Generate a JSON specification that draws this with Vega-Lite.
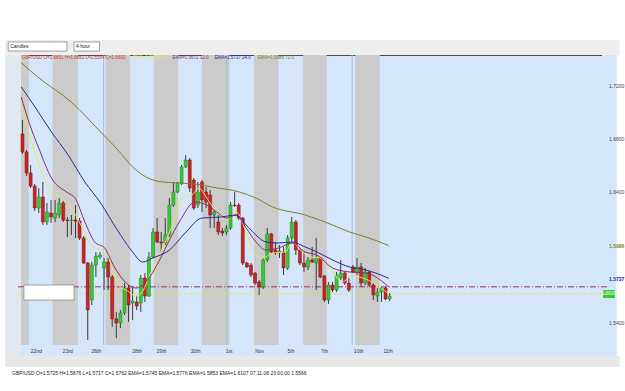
{
"$schema": "https://vega.github.io/schema/vega-lite/v6.json",
"width": 591, "height": 290,
"autosize": {"type": "none"},
"padding": {"left": 16, "top": 55, "right": 18, "bottom": 46},
"background": "white",
"config": {"view": {"fill": "#d5e6fb", "stroke": "#4a4a4a", "strokeWidth": 1}, "font": "Liberation Sans"},
"title": {"text": "GBP/USD O=1.5725 H=1.5876 L=1.5717 C=1.5762  EMA=1.5745 EMA=1.5776 EMA=1.5853 EMA=1.6107  07.11.08 23:00:00  1.5566", "orient": "bottom", "anchor": "start", "frame": "group", "dx": -4, "offset": 4, "fontSize": 5, "fontWeight": "normal", "color": "#222222", "font": "Liberation Sans"},
"datasets": {
"bands": [{"start":-0.36,"end":1.57},{"start":7.35,"end":13.61},{"start":20.36,"end":26.39},{"start":32.17,"end":38.19},{"start":43.98,"end":50.72},{"start":56.75,"end":62.77},{"start":68.8,"end":74.58},{"start":81.57,"end":87.59}],
"weeks": [{"i":19.9},{"i":50.0},{"i":80.8}],
"levels": [{"level":1.5672,"kind":"ema12"},{"level":1.5618,"kind":"ema6"}],
"chrome": [
{"x1":-4.217,"x2":146.39,"y1":1.7434,"y2":1.7548,"part":"toolbar"},
{"x1":-4.217,"x2":-0.36,"y1":1.5146,"y2":1.7434,"part":"lefttools"},
{"x1":142.05,"x2":145.66,"y1":1.5146,"y2":1.7434,"part":"axisstrip"},
{"x1":-0.36,"x2":142.05,"y1":1.5146,"y2":1.523,"part":"axisstrip"},
{"x1":-4.217,"x2":146.39,"y1":1.5063,"y2":1.5146,"part":"status"},
{"x1":142.3,"x2":145.2,"y1":1.5587,"y2":1.5648,"part":"pricebox"},
{"x1":-3.49,"x2":10.9,"y1":1.7464,"y2":1.7533,"part":"field"},
{"x1":12.65,"x2":18.9,"y1":1.7464,"y2":1.7533,"part":"field"},
{"x1":0.36,"x2":12.65,"y1":1.5572,"y2":1.5686,"part":"inputbox"}
],
"labels": [
{"i":-3.0,"p":1.7499,"t":"Candles","k":"tool"},
{"i":13.13,"p":1.7499,"t":"4 hour","k":"tool"},
{"i":143.75,"p":1.5618,"t":"1.5618","k":"price"}
],
"header": [
{"i":-0.1,"p":1.7411,"t":"GBP/USD O=1.6651 H=1.6661 L=1.6564 C=1.6603","s":"price"},
{"i":27.1,"p":1.7411,"t":"EMA=1.5618 6.0","s":"ema6"},
{"i":36.75,"p":1.7411,"t":"EMA=1.5672 12.0","s":"ema12"},
{"i":47.1,"p":1.7411,"t":"EMA=1.5737 24.0","s":"ema24"},
{"i":57.7,"p":1.7411,"t":"EMA=1.5986 72.0","s":"ema72"}
],
"candles": [
{"i":0,"o":1.6834,"h":1.6940,"l":1.6682,"c":1.6697},
{"i":1,"o":1.6697,"h":1.6712,"l":1.6514,"c":1.6537},
{"i":2,"o":1.6537,"h":1.6598,"l":1.6423,"c":1.6438},
{"i":3,"o":1.6438,"h":1.6454,"l":1.6248,"c":1.6271},
{"i":4,"o":1.6271,"h":1.6423,"l":1.6233,"c":1.6355},
{"i":5,"o":1.6355,"h":1.6469,"l":1.6142,"c":1.6165},
{"i":6,"o":1.6165,"h":1.6309,"l":1.6142,"c":1.6241},
{"i":7,"o":1.6233,"h":1.6332,"l":1.6157,"c":1.6203},
{"i":8,"o":1.6195,"h":1.6332,"l":1.6165,"c":1.6233},
{"i":9,"o":1.6218,"h":1.6347,"l":1.6195,"c":1.6309},
{"i":10,"o":1.6309,"h":1.6324,"l":1.6165,"c":1.6180},
{"i":11,"o":1.6180,"h":1.6203,"l":1.6051,"c":1.6176},
{"i":12,"o":1.6176,"h":1.6218,"l":1.6066,"c":1.6180},
{"i":13,"o":1.6180,"h":1.6294,"l":1.6043,"c":1.6172},
{"i":14,"o":1.6172,"h":1.6195,"l":1.6028,"c":1.6043},
{"i":15,"o":1.6043,"h":1.6058,"l":1.5846,"c":1.5853},
{"i":16,"o":1.5853,"h":1.5861,"l":1.5268,"c":1.5496},
{"i":17,"o":1.5572,"h":1.5861,"l":1.5534,"c":1.5838},
{"i":18,"o":1.5838,"h":1.5937,"l":1.5747,"c":1.5906},
{"i":19,"o":1.5899,"h":1.5937,"l":1.5884,"c":1.5914},
{"i":20,"o":1.5815,"h":1.5891,"l":1.5648,"c":1.5861},
{"i":21,"o":1.5861,"h":1.5891,"l":1.5648,"c":1.5747},
{"i":22,"o":1.5747,"h":1.5762,"l":1.5367,"c":1.5428},
{"i":23,"o":1.5428,"h":1.5481,"l":1.5283,"c":1.5397},
{"i":24,"o":1.5397,"h":1.5496,"l":1.5359,"c":1.5473},
{"i":25,"o":1.5473,"h":1.5701,"l":1.5458,"c":1.5663},
{"i":26,"o":1.5663,"h":1.5686,"l":1.5405,"c":1.5534},
{"i":27,"o":1.5549,"h":1.5663,"l":1.5420,"c":1.5564},
{"i":28,"o":1.5557,"h":1.5602,"l":1.5496,"c":1.5526},
{"i":29,"o":1.5549,"h":1.5762,"l":1.5481,"c":1.5739},
{"i":30,"o":1.5739,"h":1.5777,"l":1.5557,"c":1.5602},
{"i":31,"o":1.5602,"h":1.5937,"l":1.5595,"c":1.5899},
{"i":32,"o":1.5899,"h":1.6119,"l":1.5891,"c":1.6089},
{"i":33,"o":1.6089,"h":1.6195,"l":1.6005,"c":1.6013},
{"i":34,"o":1.6013,"h":1.6089,"l":1.5937,"c":1.6005},
{"i":35,"o":1.6005,"h":1.6195,"l":1.5990,"c":1.6066},
{"i":36,"o":1.6066,"h":1.6347,"l":1.6051,"c":1.6294},
{"i":37,"o":1.6294,"h":1.6469,"l":1.6279,"c":1.6393},
{"i":38,"o":1.6393,"h":1.6469,"l":1.6385,"c":1.6461},
{"i":39,"o":1.6461,"h":1.6598,"l":1.6446,"c":1.6583},
{"i":40,"o":1.6583,"h":1.6674,"l":1.6575,"c":1.6636},
{"i":41,"o":1.6636,"h":1.6651,"l":1.6393,"c":1.6423},
{"i":42,"o":1.6484,"h":1.6499,"l":1.6256,"c":1.6271},
{"i":43,"o":1.6294,"h":1.6469,"l":1.6271,"c":1.6393},
{"i":44,"o":1.6469,"h":1.6484,"l":1.6241,"c":1.6332},
{"i":45,"o":1.6393,"h":1.6431,"l":1.6271,"c":1.6317},
{"i":46,"o":1.6370,"h":1.6408,"l":1.6119,"c":1.6218},
{"i":47,"o":1.6218,"h":1.6256,"l":1.6119,"c":1.6241},
{"i":48,"o":1.6165,"h":1.6218,"l":1.6066,"c":1.6089},
{"i":49,"o":1.6096,"h":1.6119,"l":1.6058,"c":1.6081},
{"i":50,"o":1.6089,"h":1.6142,"l":1.6066,"c":1.6119},
{"i":51,"o":1.6119,"h":1.6317,"l":1.6104,"c":1.6294},
{"i":52,"o":1.6294,"h":1.6393,"l":1.6279,"c":1.6290},
{"i":53,"o":1.6294,"h":1.6309,"l":1.6180,"c":1.6195},
{"i":54,"o":1.6195,"h":1.6203,"l":1.5838,"c":1.5853},
{"i":55,"o":1.5853,"h":1.5861,"l":1.5815,"c":1.5823},
{"i":56,"o":1.5838,"h":1.5853,"l":1.5747,"c":1.5762},
{"i":57,"o":1.5777,"h":1.5785,"l":1.5686,"c":1.5701},
{"i":58,"o":1.5709,"h":1.5724,"l":1.5610,"c":1.5671},
{"i":59,"o":1.5671,"h":1.5891,"l":1.5656,"c":1.5876},
{"i":60,"o":1.5876,"h":1.6119,"l":1.5861,"c":1.6074},
{"i":61,"o":1.6074,"h":1.6081,"l":1.5929,"c":1.5937},
{"i":62,"o":1.5952,"h":1.6013,"l":1.5914,"c":1.5929},
{"i":63,"o":1.5929,"h":1.5990,"l":1.5891,"c":1.5944},
{"i":64,"o":1.5937,"h":1.5975,"l":1.5762,"c":1.5815},
{"i":65,"o":1.5815,"h":1.6066,"l":1.5800,"c":1.6043},
{"i":66,"o":1.6043,"h":1.6203,"l":1.6013,"c":1.6165},
{"i":67,"o":1.6165,"h":1.6180,"l":1.5914,"c":1.5952},
{"i":68,"o":1.5952,"h":1.5967,"l":1.5838,"c":1.5853},
{"i":69,"o":1.5853,"h":1.5937,"l":1.5785,"c":1.5823},
{"i":70,"o":1.5823,"h":1.5899,"l":1.5800,"c":1.5876},
{"i":71,"o":1.5876,"h":1.5975,"l":1.5853,"c":1.5861},
{"i":72,"o":1.5853,"h":1.6043,"l":1.5648,"c":1.5891},
{"i":73,"o":1.5891,"h":1.5899,"l":1.5739,"c":1.5747},
{"i":74,"o":1.5754,"h":1.5762,"l":1.5557,"c":1.5572},
{"i":75,"o":1.5572,"h":1.5709,"l":1.5542,"c":1.5686},
{"i":76,"o":1.5686,"h":1.5709,"l":1.5633,"c":1.5648},
{"i":77,"o":1.5648,"h":1.5785,"l":1.5633,"c":1.5762},
{"i":78,"o":1.5739,"h":1.5876,"l":1.5724,"c":1.5777},
{"i":79,"o":1.5777,"h":1.5785,"l":1.5686,"c":1.5701},
{"i":80,"o":1.5701,"h":1.5739,"l":1.5633,"c":1.5648},
{"i":81,"o":1.5823,"h":1.5838,"l":1.5777,"c":1.5785},
{"i":82,"o":1.5785,"h":1.5891,"l":1.5762,"c":1.5823},
{"i":83,"o":1.5823,"h":1.5853,"l":1.5671,"c":1.5701},
{"i":84,"o":1.5701,"h":1.5815,"l":1.5686,"c":1.5785},
{"i":85,"o":1.5785,"h":1.5792,"l":1.5671,"c":1.5686},
{"i":86,"o":1.5686,"h":1.5701,"l":1.5572,"c":1.5610},
{"i":87,"o":1.5602,"h":1.5663,"l":1.5557,"c":1.5633},
{"i":88,"o":1.5633,"h":1.5671,"l":1.5557,"c":1.5663},
{"i":89,"o":1.5663,"h":1.5671,"l":1.5572,"c":1.5580},
{"i":90,"o":1.5580,"h":1.5625,"l":1.5564,"c":1.5602}
],
"ma": [
{"i":-0.3,"p":1.7039,"s":"ema6"},{"i":0.84,"p":1.6925,"s":"ema6"},{"i":3.25,"p":1.6674,"s":"ema6"},{"i":5.66,"p":1.6469,"s":"ema6"},{"i":7.11,"p":1.6393,"s":"ema6"},{"i":9.52,"p":1.6347,"s":"ema6"},{"i":11.93,"p":1.6271,"s":"ema6"},{"i":14.34,"p":1.6142,"s":"ema6"},{"i":16.75,"p":1.5990,"s":"ema6"},{"i":18.92,"p":1.5952,"s":"ema6"},{"i":20.84,"p":1.5914,"s":"ema6"},{"i":22.53,"p":1.5762,"s":"ema6"},{"i":23.98,"p":1.5671,"s":"ema6"},{"i":25.42,"p":1.5648,"s":"ema6"},{"i":27.83,"p":1.5602,"s":"ema6"},{"i":29.52,"p":1.5641,"s":"ema6"},{"i":31.2,"p":1.5762,"s":"ema6"},{"i":34.34,"p":1.5967,"s":"ema6"},{"i":36.75,"p":1.6142,"s":"ema6"},{"i":39.16,"p":1.6347,"s":"ema6"},{"i":41.57,"p":1.6370,"s":"ema6"},{"i":43.25,"p":1.6423,"s":"ema6"},{"i":45.18,"p":1.6347,"s":"ema6"},{"i":47.59,"p":1.6241,"s":"ema6"},{"i":50,"p":1.6180,"s":"ema6"},{"i":52.41,"p":1.6241,"s":"ema6"},{"i":54.82,"p":1.6089,"s":"ema6"},{"i":57.23,"p":1.5914,"s":"ema6"},{"i":58.92,"p":1.5891,"s":"ema6"},{"i":61.33,"p":1.5929,"s":"ema6"},{"i":64.46,"p":1.5937,"s":"ema6"},{"i":66.14,"p":1.6013,"s":"ema6"},{"i":68.07,"p":1.5952,"s":"ema6"},{"i":70.48,"p":1.5899,"s":"ema6"},{"i":72.89,"p":1.5891,"s":"ema6"},{"i":76.02,"p":1.5785,"s":"ema6"},{"i":78.43,"p":1.5709,"s":"ema6"},{"i":80.84,"p":1.5762,"s":"ema6"},{"i":82.53,"p":1.5747,"s":"ema6"},{"i":85.66,"p":1.5709,"s":"ema6"},{"i":89.76,"p":1.5618,"s":"ema6"},
{"i":-0.3,"p":1.7115,"s":"ema12"},{"i":1.57,"p":1.6925,"s":"ema12"},{"i":3.98,"p":1.6727,"s":"ema12"},{"i":7.11,"p":1.6499,"s":"ema12"},{"i":11.2,"p":1.6385,"s":"ema12"},{"i":12.89,"p":1.6347,"s":"ema12"},{"i":15.3,"p":1.6165,"s":"ema12"},{"i":17.71,"p":1.6013,"s":"ema12"},{"i":20.12,"p":1.5967,"s":"ema12"},{"i":22.53,"p":1.5823,"s":"ema12"},{"i":25.42,"p":1.5701,"s":"ema12"},{"i":27.83,"p":1.5663,"s":"ema12"},{"i":30.24,"p":1.5709,"s":"ema12"},{"i":33.61,"p":1.5876,"s":"ema12"},{"i":36.02,"p":1.6028,"s":"ema12"},{"i":38.43,"p":1.6165,"s":"ema12"},{"i":42.29,"p":1.6317,"s":"ema12"},{"i":45.18,"p":1.6294,"s":"ema12"},{"i":47.59,"p":1.6241,"s":"ema12"},{"i":50,"p":1.6195,"s":"ema12"},{"i":52.41,"p":1.6218,"s":"ema12"},{"i":54.82,"p":1.6119,"s":"ema12"},{"i":57.23,"p":1.6013,"s":"ema12"},{"i":59.64,"p":1.5952,"s":"ema12"},{"i":62.77,"p":1.5967,"s":"ema12"},{"i":66.14,"p":1.6005,"s":"ema12"},{"i":69.28,"p":1.5937,"s":"ema12"},{"i":72.17,"p":1.5914,"s":"ema12"},{"i":76.02,"p":1.5815,"s":"ema12"},{"i":80.12,"p":1.5785,"s":"ema12"},{"i":84.22,"p":1.5777,"s":"ema12"},{"i":89.76,"p":1.5672,"s":"ema12"},
{"i":-0.3,"p":1.7191,"s":"ema24"},{"i":3.25,"p":1.7031,"s":"ema24"},{"i":7.11,"p":1.6849,"s":"ema24"},{"i":11.2,"p":1.6674,"s":"ema24"},{"i":15.3,"p":1.6469,"s":"ema24"},{"i":19.16,"p":1.6309,"s":"ema24"},{"i":23.25,"p":1.6104,"s":"ema24"},{"i":26.63,"p":1.5952,"s":"ema24"},{"i":29.52,"p":1.5861,"s":"ema24"},{"i":31.93,"p":1.5891,"s":"ema24"},{"i":36.02,"p":1.5952,"s":"ema24"},{"i":39.88,"p":1.6081,"s":"ema24"},{"i":43.98,"p":1.6195,"s":"ema24"},{"i":48.8,"p":1.6203,"s":"ema24"},{"i":52.41,"p":1.6218,"s":"ema24"},{"i":54.82,"p":1.6142,"s":"ema24"},{"i":57.23,"p":1.6066,"s":"ema24"},{"i":59.64,"p":1.6013,"s":"ema24"},{"i":62.77,"p":1.6005,"s":"ema24"},{"i":66.14,"p":1.6013,"s":"ema24"},{"i":69.28,"p":1.5975,"s":"ema24"},{"i":72.17,"p":1.5937,"s":"ema24"},{"i":76.02,"p":1.5876,"s":"ema24"},{"i":80.12,"p":1.5823,"s":"ema24"},{"i":84.22,"p":1.5800,"s":"ema24"},{"i":89.76,"p":1.5737,"s":"ema24"},
{"i":-0.3,"p":1.7375,"s":"ema72"},{"i":3.73,"p":1.7267,"s":"ema72"},{"i":11.93,"p":1.7077,"s":"ema72"},{"i":19.88,"p":1.6826,"s":"ema72"},{"i":22.29,"p":1.6750,"s":"ema72"},{"i":27.83,"p":1.6560,"s":"ema72"},{"i":30.24,"p":1.6507,"s":"ema72"},{"i":34.34,"p":1.6469,"s":"ema72"},{"i":38.43,"p":1.6461,"s":"ema72"},{"i":43.98,"p":1.6446,"s":"ema72"},{"i":46.39,"p":1.6431,"s":"ema72"},{"i":53.13,"p":1.6393,"s":"ema72"},{"i":57.23,"p":1.6347,"s":"ema72"},{"i":61.33,"p":1.6279,"s":"ema72"},{"i":69.28,"p":1.6218,"s":"ema72"},{"i":76.02,"p":1.6142,"s":"ema72"},{"i":80.12,"p":1.6089,"s":"ema72"},{"i":84.22,"p":1.6051,"s":"ema72"},{"i":89.76,"p":1.5986,"s":"ema72"}
]
},
"layer": [
{"data": {"name": "bands"}, "mark": {"type": "rect", "color": "#cbcbcb"},
 "encoding": {
  "x": {"field": "start", "type": "quantitative", "scale": {"domain": [-0.36, 142.05], "nice": false, "zero": false},
   "axis": {"orient": "bottom", "title": null, "grid": false, "ticks": false, "domain": false, "labelFontSize": 5, "labelColor": "#333333", "labelPadding": 3, "labelAlign": "center", "labelOverlap": false, "zindex": 2, "values": [3.3, 11, 18, 28, 34, 42.3, 50.5, 58, 65.7, 73.9, 82.3, 89.5],
    "labelExpr": "['22nd','23rd','26th','28th','29th','30th','1st','Nov','5th','7th','10th','11th'][indexof([3.3,11,18,28,34,42.3,50.5,58,65.7,73.9,82.3,89.5], datum.value)]"}},
  "x2": {"field": "end"}}},
{"data": {"name": "weeks"}, "mark": {"type": "rule", "color": "#a7bcd6", "strokeWidth": 1},
 "encoding": {"x": {"field": "i", "type": "quantitative", "scale": {"domain": [-0.36, 142.05], "nice": false, "zero": false}}}},
{"data": {"name": "chrome"}, "transform": [{"filter": "datum.part != 'field' && datum.part != 'inputbox'"}], "mark": {"type": "rect", "strokeWidth": 0},
 "encoding": {
  "x": {"field": "x1", "type": "quantitative", "scale": {"domain": [-0.36, 142.05], "nice": false, "zero": false}},
  "x2": {"field": "x2"},
  "y": {"field": "y1", "type": "quantitative", "scale": {"domain": [1.523, 1.7434], "nice": false, "zero": false}},
  "y2": {"field": "y2"},
  "fill": {"field": "part", "type": "nominal", "legend": null, "scale": {"domain": ["toolbar", "lefttools", "axisstrip", "status", "pricebox"], "range": ["#eeeeee", "#e2e8f0", "#d5e6fb", "#e8e8e8", "#33cc33"]}}}},
{"data": {"name": "chrome"}, "transform": [{"filter": "datum.part == 'field'"}], "mark": {"type": "rect", "fill": "#ffffff", "stroke": "#8a8a8a", "strokeWidth": 0.8},
 "encoding": {
  "x": {"field": "x1", "type": "quantitative", "scale": {"domain": [-0.36, 142.05], "nice": false, "zero": false}},
  "x2": {"field": "x2"},
  "y": {"field": "y1", "type": "quantitative", "scale": {"domain": [1.523, 1.7434], "nice": false, "zero": false}},
  "y2": {"field": "y2"}}},
{"data": {"name": "levels"}, "transform": [{"filter": "datum.kind == 'ema12'"}], "mark": {"type": "rule", "color": "#9a3070", "strokeWidth": 1, "strokeDash": [6, 2, 1, 2]},
 "encoding": {"y": {"field": "level", "type": "quantitative", "scale": {"domain": [1.523, 1.7434], "nice": false, "zero": false}}}},
{"data": {"name": "levels"}, "transform": [{"filter": "datum.kind == 'ema6'"}], "mark": {"type": "rule", "color": "#e2e25c", "strokeWidth": 1, "strokeDash": [3, 2]},
 "encoding": {"y": {"field": "level", "type": "quantitative", "scale": {"domain": [1.523, 1.7434], "nice": false, "zero": false}}}},
{"data": {"name": "chrome"}, "transform": [{"filter": "datum.part == 'inputbox'"}], "mark": {"type": "rect", "fill": "#ffffff", "stroke": "#8a8a8a", "strokeWidth": 0.8},
 "encoding": {
  "x": {"field": "x1", "type": "quantitative", "scale": {"domain": [-0.36, 142.05], "nice": false, "zero": false}},
  "x2": {"field": "x2"},
  "y": {"field": "y1", "type": "quantitative", "scale": {"domain": [1.523, 1.7434], "nice": false, "zero": false}},
  "y2": {"field": "y2"}}},
{"data": {"name": "candles"}, "mark": {"type": "rule", "color": "#3a3a3a", "strokeWidth": 1},
 "encoding": {
  "x": {"field": "i", "type": "quantitative", "scale": {"domain": [-0.36, 142.05], "nice": false, "zero": false}},
  "y": {"field": "l", "type": "quantitative", "scale": {"domain": [1.523, 1.7434], "nice": false, "zero": false},
   "axis": {"orient": "right", "title": null, "grid": false, "ticks": false, "domain": false, "labelFontSize": 5, "labelPadding": 1.5, "labelOverlap": false, "zindex": 2, "format": ".4f",
    "values": [1.54, 1.58, 1.62, 1.64, 1.66, 1.68, 1.70, 1.72, 1.5986, 1.5737, 1.5672],
    "labelColor": {"condition": [{"test": "datum.value == 1.5986", "value": "#7f7f22"}, {"test": "datum.value == 1.5737", "value": "#27279a"}, {"test": "datum.value == 1.5672", "value": "#8e2a68"}], "value": "#444444"},
    "labelFontWeight": {"condition": {"test": "datum.value == 1.5986 || datum.value == 1.5737 || datum.value == 1.5672", "value": "bold"}, "value": "normal"}}},
  "y2": {"field": "h"}}},
{"data": {"name": "candles"}, "transform": [{"filter": "datum.c >= datum.o"}], "mark": {"type": "bar", "size": 3, "fill": "#33cc33", "stroke": "#1f7a1f", "strokeWidth": 0.5},
 "encoding": {
  "x": {"field": "i", "type": "quantitative", "scale": {"domain": [-0.36, 142.05], "nice": false, "zero": false}},
  "y": {"field": "o", "type": "quantitative", "scale": {"domain": [1.523, 1.7434], "nice": false, "zero": false}},
  "y2": {"field": "c"}}},
{"data": {"name": "candles"}, "transform": [{"filter": "datum.c < datum.o"}], "mark": {"type": "bar", "size": 3, "fill": "#cc2222", "stroke": "#7a1010", "strokeWidth": 0.5},
 "encoding": {
  "x": {"field": "i", "type": "quantitative", "scale": {"domain": [-0.36, 142.05], "nice": false, "zero": false}},
  "y": {"field": "o", "type": "quantitative", "scale": {"domain": [1.523, 1.7434], "nice": false, "zero": false}},
  "y2": {"field": "c"}}},
{"data": {"name": "ma"}, "mark": {"type": "line", "strokeWidth": 1, "interpolate": "monotone"},
 "encoding": {
  "x": {"field": "i", "type": "quantitative", "scale": {"domain": [-0.36, 142.05], "nice": false, "zero": false}},
  "y": {"field": "p", "type": "quantitative", "scale": {"domain": [1.523, 1.7434], "nice": false, "zero": false}},
  "color": {"field": "s", "type": "nominal", "legend": null, "scale": {"domain": ["price", "ema6", "ema12", "ema24", "ema72"], "range": ["#d03030", "#e6e660", "#8e2a68", "#27279a", "#7f7f22"]}}}},
{"data": {"name": "header"}, "mark": {"type": "text", "align": "left", "baseline": "middle", "fontSize": 4.5},
 "encoding": {
  "x": {"field": "i", "type": "quantitative", "scale": {"domain": [-0.36, 142.05], "nice": false, "zero": false}},
  "y": {"field": "p", "type": "quantitative", "scale": {"domain": [1.523, 1.7434], "nice": false, "zero": false}},
  "text": {"field": "t"},
  "color": {"field": "s", "type": "nominal", "legend": null, "scale": {"domain": ["price", "ema6", "ema12", "ema24", "ema72"], "range": ["#d03030", "#e6e660", "#8e2a68", "#27279a", "#7f7f22"]}}}},
{"data": {"name": "labels"}, "transform": [{"filter": "datum.k == 'tool'"}], "mark": {"type": "text", "align": "left", "baseline": "middle", "fontSize": 5, "color": "#222222"},
 "encoding": {
  "x": {"field": "i", "type": "quantitative", "scale": {"domain": [-0.36, 142.05], "nice": false, "zero": false}},
  "y": {"field": "p", "type": "quantitative", "scale": {"domain": [1.523, 1.7434], "nice": false, "zero": false}},
  "text": {"field": "t"}}},
{"data": {"name": "labels"}, "transform": [{"filter": "datum.k == 'price'"}], "mark": {"type": "text", "align": "center", "baseline": "middle", "fontSize": 4.5, "color": "#eaffea"},
 "encoding": {
  "x": {"field": "i", "type": "quantitative", "scale": {"domain": [-0.36, 142.05], "nice": false, "zero": false}},
  "y": {"field": "p", "type": "quantitative", "scale": {"domain": [1.523, 1.7434], "nice": false, "zero": false}},
  "text": {"field": "t"}}}
]
}
